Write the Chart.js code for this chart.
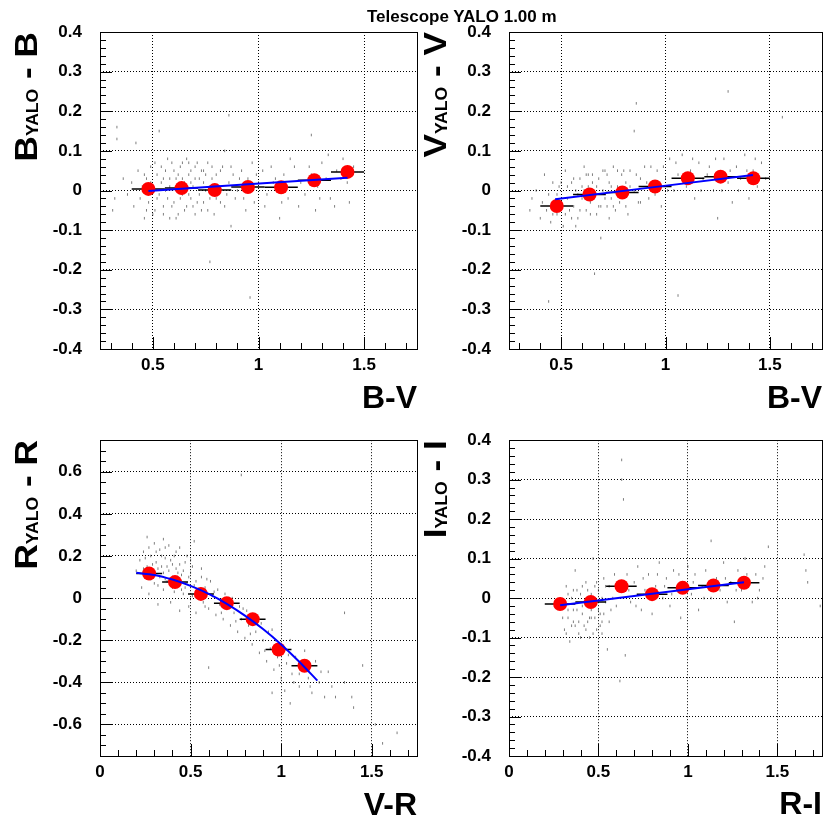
<!DOCTYPE html>
<html lang="en">
<head>
<meta charset="UTF-8">
<title>Telescope YALO 1.00 m</title>
<script src="https://cdn.jsdelivr.net/npm/chart.js"></script>
<style>
    * {
        margin: 0;
        padding: 0;
        box-sizing: border-box;
    }

    body {
        background: #fff;
        width: 829px;
        height: 824px;
        position: relative;
        overflow: hidden;
        font-family: "Liberation Sans", Arial, sans-serif;
    }

    .page-title {
        position: absolute;
        left: 367px;
        top: 8px;
        font-size: 17px;
        line-height: 17px;
        font-weight: bold;
        white-space: nowrap;
    }

    .panel { position: absolute; }
    #panel-b { left: 0; top: 0; width: 425px; height: 412px; }
    #panel-v { left: 414px; top: 0; width: 415px; height: 412px; }
    #panel-r { left: 0; top: 412px; width: 425px; height: 412px; }
    #panel-i { left: 414px; top: 412px; width: 415px; height: 412px; }
</style>
</head>
<body>
<div class="panel" id="panel-b"><canvas id="chart-b"></canvas></div>
<div class="panel" id="panel-v"><canvas id="chart-v"></canvas></div>
<div class="panel" id="panel-r"><canvas id="chart-r"></canvas></div>
<div class="panel" id="panel-i"><canvas id="chart-i"></canvas></div>
<div class="page-title">Telescope YALO 1.00 m</div>

<script>
// ---- data ----

// B-V bins (shared by the two top panels)
const bvCentres = [0.479, 0.636, 0.793, 0.950, 1.107, 1.264, 1.421];
const bvBinLo = [0.400, 0.557, 0.714, 0.871, 1.029, 1.186, 1.343];
const bvBinHi = [0.557, 0.714, 0.871, 1.029, 1.186, 1.343, 1.500];
const bMeans = [0.004, 0.006, 0.001, 0.009, 0.008, 0.026, 0.047];
const vMeans = [-0.039, -0.010, -0.005, 0.010, 0.031, 0.035, 0.031];

// V-R bins
const vrCentres = [0.271, 0.414, 0.557, 0.700, 0.843, 0.986, 1.129];
const vrBinLo = [0.200, 0.343, 0.486, 0.629, 0.771, 0.914, 1.057];
const vrBinHi = [0.343, 0.486, 0.629, 0.771, 0.914, 1.057, 1.200];
const rMeans = [0.117, 0.076, 0.020, -0.024, -0.100, -0.244, -0.321];

// R-I bins
const riCentres = [0.286, 0.457, 0.629, 0.800, 0.971, 1.143, 1.314];
const riBinLo = [0.200, 0.371, 0.543, 0.714, 0.886, 1.057, 1.229];
const riBinHi = [0.371, 0.543, 0.714, 0.886, 1.057, 1.229, 1.400];
const iMeans = [-0.015, -0.010, 0.030, 0.010, 0.026, 0.032, 0.039];

// fitted curves
const bFitX = [0.479, 1.421];
const bFitY = [-0.001, 0.032];
const vFitX = [0.471, 1.419];
const vFitY = [-0.022, 0.039];
const rFitX = [0.2, 0.3, 0.4, 0.5, 0.6, 0.7, 0.8, 0.9, 1.0, 1.1, 1.2];
const rFitY = [0.120, 0.110, 0.088, 0.058, 0.020, -0.027, -0.083, -0.147, -0.220, -0.302, -0.392];
const iFitX = [0.286, 1.314];
const iFitY = [-0.018, 0.040];

// individual star residuals (grey dots)
const bScatter = [
    [0.31,-0.05],[0.32,-0.02],[0.33,0.16],[0.33,0.13],[0.36,0.03],[0.38,-0.01],[0.40,0.02],[0.41,-0.04],
    [0.42,0.12],[0.43,0.05],[0.44,-0.02],[0.45,0.01],[0.46,-0.07],[0.47,0.03],[0.48,-0.03],[0.49,0.06],
    [0.50,0.00],[0.51,-0.05],[0.52,0.04],[0.53,0.15],[0.53,-0.01],[0.54,0.02],[0.55,-0.04],[0.56,0.05],
    [0.57,-0.02],[0.58,0.01],[0.59,0.07],[0.60,-0.03],[0.61,0.03],[0.62,-0.06],[0.63,0.06],[0.64,-0.01],
    [0.65,0.02],[0.66,0.08],[0.66,-0.04],[0.67,0.04],[0.68,-0.02],[0.69,0.01],[0.70,0.06],[0.71,-0.03],
    [0.72,0.03],[0.73,-0.05],[0.74,0.05],[0.75,0.00],[0.76,0.07],[0.77,-0.18],[0.77,-0.02],[0.78,0.03],
    [0.79,-0.06],[0.80,0.04],[0.81,0.01],[0.82,-0.03],[0.83,0.06],[0.84,0.10],[0.85,-0.01],[0.86,0.19],
    [0.86,0.02],[0.87,-0.09],[0.88,0.04],[0.90,0.00],[0.92,0.05],[0.93,-0.02],[0.95,0.03],[0.96,-0.27],
    [0.97,0.07],[0.98,-0.03],[1.00,0.02],[1.02,0.05],[1.04,-0.01],[1.06,0.06],[1.08,0.03],[1.10,-0.07],
    [1.10,0.01],[1.12,0.04],[1.14,-0.02],[1.17,0.06],[1.20,0.02],[1.22,-0.01],[1.25,0.14],[1.25,0.04],
    [1.27,-0.05],[1.28,0.01],[1.30,0.07],[1.32,0.03],[1.34,-0.02],[1.37,0.05],[1.40,0.08],[1.42,0.02],
    [1.45,0.06],[0.58,-0.07],[0.64,0.07],[0.70,-0.06],[0.62,0.00],[0.74,0.02],[0.55,0.03],[0.68,0.05],
    [0.46,0.04],[0.47,-0.05],[0.49,0.02],[0.50,-0.06],[0.51,0.07],[0.52,-0.02],[0.54,0.06],[0.55,-0.06],
    [0.56,0.00],[0.57,0.08],[0.58,0.03],[0.59,-0.04],[0.60,0.05],[0.61,-0.07],[0.62,0.04],[0.63,-0.02],
    [0.64,0.03],[0.65,-0.05],[0.66,0.01],[0.67,0.07],[0.67,-0.01],[0.68,0.02],[0.69,-0.04],[0.70,0.03],
    [0.71,0.07],[0.72,-0.01],[0.73,0.05],[0.74,-0.03],[0.75,0.04],[0.76,-0.05],[0.78,0.06],[0.79,0.01],
    [0.80,-0.02],[0.82,0.05],[0.84,-0.04],[0.87,0.06],[0.89,-0.02],[0.91,0.03],[0.94,-0.05],[0.99,0.04],
    [1.03,-0.04],[1.07,0.02],[1.11,-0.03],[1.15,0.08],[1.19,-0.04],[1.24,0.06],[1.29,-0.02],[1.33,0.09],
    [1.36,-0.04],[1.39,0.03],[1.43,-0.03]
];
const vScatter = [
    [0.35,-0.05],[0.36,-0.02],[0.38,0.00],[0.40,-0.07],[0.41,-0.03],[0.42,0.04],[0.43,-0.05],[0.44,-0.28],
    [0.44,-0.01],[0.45,-0.08],[0.46,0.02],[0.47,-0.04],[0.48,-0.06],[0.49,0.01],[0.50,-0.03],[0.51,-0.09],
    [0.52,0.05],[0.53,-0.02],[0.54,-0.05],[0.55,0.02],[0.56,-0.04],[0.57,0.00],[0.58,-0.07],[0.59,0.03],
    [0.60,-0.02],[0.61,0.06],[0.62,-0.05],[0.63,0.01],[0.64,-0.03],[0.65,0.04],[0.66,-0.21],[0.66,-0.01],
    [0.67,-0.06],[0.68,0.03],[0.69,-0.12],[0.70,0.00],[0.71,0.05],[0.72,-0.04],[0.73,0.02],[0.74,-0.02],
    [0.75,0.06],[0.76,-0.05],[0.77,0.01],[0.78,-0.03],[0.79,0.04],[0.80,-0.01],[0.81,0.02],[0.82,-0.06],
    [0.83,0.05],[0.85,0.15],[0.85,0.00],[0.86,0.22],[0.87,-0.03],[0.88,0.03],[0.90,0.06],[0.92,-0.02],
    [0.94,0.02],[0.96,0.05],[0.98,-0.04],[1.00,0.03],[1.02,0.08],[1.04,0.00],[1.06,-0.265],[1.06,0.04],
    [1.08,0.09],[1.10,0.01],[1.12,0.05],[1.14,-0.02],[1.16,0.07],[1.18,0.03],[1.21,0.06],[1.23,0.00],
    [1.25,-0.07],[1.26,0.04],[1.28,0.08],[1.30,0.25],[1.30,0.02],[1.32,-0.03],[1.34,0.06],[1.36,0.03],
    [1.38,0.09],[1.40,-0.02],[1.42,0.05],[1.44,0.01],[1.46,0.07],[1.48,0.03],[1.56,0.185],[0.57,-0.09],
    [0.63,0.04],[0.69,-0.04],[0.60,0.01],[0.73,-0.07],
    [0.46,-0.06],[0.48,-0.01],[0.50,0.02],[0.52,-0.06],[0.53,0.01],[0.55,-0.07],[0.56,0.03],[0.58,-0.01],
    [0.59,-0.05],[0.61,0.00],[0.62,0.04],[0.64,-0.06],[0.65,0.02],[0.67,0.01],[0.68,-0.04],[0.70,0.05],
    [0.71,-0.02],[0.72,0.04],[0.74,0.01],[0.75,-0.04],[0.77,0.05],[0.78,0.00],[0.80,0.05],[0.81,-0.04],
    [0.83,0.01],[0.86,0.04],[0.88,-0.03],[0.91,0.02],[0.93,0.06],[0.95,-0.01],[0.99,0.06],[1.01,0.00],
    [1.05,0.07],[1.09,0.02],[1.13,0.08],[1.17,0.00],[1.20,0.04],[1.24,0.08],[1.27,0.00],[1.31,0.05],
    [1.35,0.00],[1.39,0.05],[1.43,0.08],[1.47,0.00]
];
const rScatter = [
    [0.20,0.13],[0.22,0.18],[0.23,0.05],[0.24,0.22],[0.25,0.10],[0.26,0.29],[0.26,0.15],[0.27,0.02],
    [0.28,0.20],[0.29,0.12],[0.30,0.26],[0.30,0.07],[0.31,0.17],[0.32,-0.03],[0.33,0.23],[0.33,0.10],
    [0.34,0.15],[0.35,0.28],[0.35,0.04],[0.36,0.19],[0.37,0.08],[0.38,0.13],[0.38,0.25],[0.39,-0.02],
    [0.40,0.10],[0.41,0.20],[0.41,0.03],[0.42,0.14],[0.43,0.06],[0.44,0.24],[0.44,-0.06],[0.45,0.11],
    [0.46,0.02],[0.47,0.17],[0.48,0.07],[0.49,-0.04],[0.50,0.12],[0.51,0.01],[0.52,0.27],[0.52,0.06],
    [0.53,-0.07],[0.54,0.03],[0.56,0.10],[0.57,-0.02],[0.58,0.05],[0.60,-0.33],[0.60,-0.05],[0.61,0.08],
    [0.62,0.01],[0.64,-0.08],[0.65,0.04],[0.66,-0.03],[0.68,-0.10],[0.69,0.02],[0.70,-0.05],[0.72,-0.13],
    [0.73,0.00],[0.74,-0.07],[0.76,-0.16],[0.77,-0.04],[0.78,0.585],[0.78,-0.10],[0.80,-0.19],[0.81,-0.06],
    [0.82,-0.13],[0.84,-0.22],[0.85,-0.09],[0.86,-0.16],[0.88,-0.26],[0.89,-0.12],[0.90,-0.20],[0.92,-0.30],
    [0.93,-0.16],[0.94,-0.24],[0.96,-0.34],[0.97,-0.20],[0.98,-0.28],[1.00,-0.38],[1.01,-0.24],[1.02,-0.44],
    [1.03,-0.31],[1.05,-0.20],[1.06,-0.36],[1.08,-0.28],[1.10,-0.42],[1.11,-0.33],[1.13,-0.25],[1.15,-0.38],
    [1.17,-0.45],[1.19,-0.30],[1.21,-0.40],[1.24,-0.47],[1.26,-0.35],[1.30,-0.47],[1.35,-0.07],[1.35,-0.40],
    [1.39,-0.47],[1.40,-0.52],[1.45,-0.32],[1.52,-0.60],[1.56,-0.69],[1.64,-0.64],[0.32,0.14],[0.36,0.09],
    [0.40,0.16],[0.43,0.12],[0.47,0.05],[0.50,0.18],
    [0.24,0.14],[0.25,0.19],[0.27,0.24],[0.28,0.09],[0.29,0.16],[0.31,0.22],[0.32,0.06],[0.34,0.20],
    [0.35,0.12],[0.36,0.24],[0.37,0.15],[0.39,0.18],[0.40,0.05],[0.42,0.22],[0.42,0.09],[0.44,0.16],
    [0.45,0.04],[0.46,0.13],[0.48,0.20],[0.49,0.10],[0.51,0.15],[0.53,0.08],[0.55,0.00],[0.56,0.14],
    [0.58,-0.04],[0.59,0.09],[0.63,0.03],[0.67,-0.07],[0.71,0.00],[0.75,-0.11],[0.79,-0.05],[0.83,-0.17],
    [0.87,-0.09],[0.91,-0.25],[0.95,-0.15],[0.99,-0.32],[1.04,-0.27],[1.07,-0.40],[1.12,-0.30],[1.16,-0.42],
    [1.22,-0.35],[1.28,-0.42],[0.95,-0.45],[1.05,-0.50],[1.10,-0.36]
];
const iScatter = [
    [0.30,-0.02],[0.31,-0.08],[0.32,0.03],[0.33,-0.05],[0.34,-0.11],[0.35,0.00],[0.36,-0.06],[0.37,0.07],
    [0.38,-0.03],[0.39,-0.09],[0.40,0.01],[0.41,-0.04],[0.42,-0.07],[0.43,0.04],[0.44,-0.01],[0.45,-0.10],
    [0.46,-0.05],[0.47,0.10],[0.48,-0.02],[0.49,-0.08],[0.50,0.02],[0.51,-0.04],[0.52,-0.06],[0.53,0.05],
    [0.54,-0.01],[0.55,-0.13],[0.56,0.03],[0.57,-0.03],[0.59,0.06],[0.60,-0.02],[0.62,-0.21],[0.63,0.35],
    [0.63,0.30],[0.64,0.25],[0.64,0.02],[0.65,-0.145],[0.66,0.06],[0.68,-0.01],[0.70,0.04],[0.72,0.08],
    [0.74,-0.03],[0.76,0.02],[0.78,0.06],[0.80,-0.04],[0.82,0.03],[0.84,0.09],[0.86,0.00],[0.88,0.05],
    [0.90,-0.02],[0.92,0.07],[0.94,0.02],[0.96,-0.05],[0.98,0.04],[1.00,0.08],[1.02,0.01],[1.04,0.06],
    [1.06,-0.03],[1.08,0.03],[1.10,0.07],[1.13,0.145],[1.13,0.00],[1.16,0.05],[1.18,0.02],[1.20,0.09],
    [1.22,-0.01],[1.24,0.04],[1.26,-0.06],[1.28,0.07],[1.30,0.02],[1.32,0.10],[1.34,0.04],[1.36,-0.01],
    [1.38,0.06],[1.40,0.02],[1.43,0.08],[1.45,0.13],[1.65,0.11],[1.66,0.07],[1.67,0.04],[1.74,-0.02],
    [0.33,-0.03],[0.37,-0.07],[0.41,-0.02],[0.44,-0.06],[0.48,0.03],[0.52,-0.09],[0.36,0.02],[0.46,-0.03],
    [0.30,-0.05],[0.32,-0.09],[0.33,0.01],[0.35,-0.07],[0.36,-0.03],[0.38,0.02],[0.39,-0.06],[0.40,-0.10],
    [0.41,0.03],[0.42,-0.01],[0.43,-0.08],[0.44,0.02],[0.45,-0.05],[0.46,0.01],[0.47,-0.09],[0.48,-0.05],
    [0.49,0.04],[0.50,-0.03],[0.51,-0.07],[0.52,0.00],[0.53,-0.04],[0.54,0.03],[0.56,-0.06],[0.58,0.00],
    [0.61,0.04],[0.67,0.02],[0.71,-0.02],[0.75,0.05],[0.79,0.00],[0.83,0.06],[0.87,0.03],[0.91,0.01],
    [0.95,0.06],[0.99,0.00],[1.03,0.04],[1.09,0.00],[1.15,0.02],[1.21,0.05],[1.27,0.02],[1.33,0.06],
    [1.39,0.00],[1.42,0.05]
];

// axis ticks
const bvTicks = [0.5, 1, 1.5];
const colourTicks = [0, 0.5, 1, 1.5];
const narrowResidTicks = [-0.4, -0.3, -0.2, -0.1, 0, 0.1, 0.2, 0.3, 0.4];
const wideResidTicks = [-0.6, -0.4, -0.2, 0, 0.2, 0.4, 0.6];

const FONT = "'Liberation Sans', Arial, Helvetica, sans-serif";

// ROOT-like frame: inner tick marks, box, axis titles with subscript
const rootAxes = {
    id: 'rootAxes',
    afterDraw(chart, args, opts) {
        const { ctx, chartArea: a } = chart;
        const xs = chart.scales.x;
        const ys = chart.scales.y;

        ctx.save();
        ctx.strokeStyle = '#000';
        ctx.lineWidth = 1;
        ctx.beginPath();

        const isMajor = (v, list) => list.some(t => Math.abs(t - v) < 1e-6);

        for (let k = Math.ceil(xs.min / opts.xMinor - 1e-6); k * opts.xMinor <= xs.max + 1e-6; k++) {
            const v = k * opts.xMinor;
            const px = Math.round(xs.getPixelForValue(v)) + 0.5;
            const len = isMajor(v, opts.xTicks) ? 12 : 6;
            ctx.moveTo(px, a.bottom);
            ctx.lineTo(px, a.bottom - len);
        }
        for (let k = Math.ceil(ys.min / opts.yMinor - 1e-6); k * opts.yMinor <= ys.max + 1e-6; k++) {
            const v = k * opts.yMinor;
            const py = Math.round(ys.getPixelForValue(v)) + 0.5;
            const len = isMajor(v, opts.yTicks) ? 12 : 6;
            ctx.moveTo(a.left, py);
            ctx.lineTo(a.left + len, py);
        }
        ctx.stroke();

        ctx.strokeRect(Math.round(a.left) + 0.5, Math.round(a.top) + 0.5,
                       Math.round(a.right - a.left), Math.round(a.bottom - a.top));

        // x title, right aligned under the frame
        ctx.fillStyle = '#000';
        ctx.font = 'bold 32px ' + FONT;
        ctx.textAlign = 'right';
        ctx.textBaseline = 'alphabetic';
        ctx.fillText(opts.xTitle, a.right, opts.xTitleY);

        drawYTitle(ctx, opts.yTitle, opts.yTitleX, a.top);
        ctx.restore();
    }
};

function drawYTitle(ctx, parts, baseX, topY) {
    const big = 'bold 32px ' + FONT;
    const small = 'bold 16px ' + FONT;

    ctx.save();
    ctx.translate(baseX, topY);
    ctx.rotate(-Math.PI / 2);
    ctx.scale(1.1, 1);
    ctx.textAlign = 'left';
    ctx.textBaseline = 'alphabetic';

    ctx.font = big;
    const w1 = ctx.measureText(parts[0]).width;
    const w3 = ctx.measureText(parts[2]).width;
    ctx.font = small;
    const w2 = ctx.measureText(parts[1]).width;

    let x = -(w1 + w2 + w3);
    ctx.font = big;
    ctx.fillText(parts[0], x, 0);
    x += w1;
    ctx.font = small;
    ctx.fillText(parts[1], x, 1);
    x += w2;
    ctx.font = big;
    ctx.fillText(parts[2], x, 0);
    ctx.restore();
}

function formatTick(v) {
    return String(Math.round(v * 100) / 100);
}

function toPoints(xs, ys) {
    return xs.map((x, i) => ({ x: x, y: ys[i] }));
}

function buildDatasets(p) {
    const sets = [];
    sets.push({
        data: toPoints(p.fitX, p.fitY),
        showLine: true,
        borderColor: '#0000ff',
        borderWidth: 2,
        tension: 0.3,
        pointRadius: 0
    });
    sets.push({
        data: toPoints(p.centres, p.means),
        pointRadius: 7,
        pointStyle: 'circle',
        backgroundColor: '#ff0000',
        borderWidth: 0
    });
    p.binLo.forEach((lo, i) => {
        sets.push({
            data: [{ x: lo, y: p.means[i] }, { x: p.binHi[i], y: p.means[i] }],
            showLine: true,
            borderColor: '#000',
            borderWidth: 1.5,
            pointRadius: 0
        });
    });
    sets.push({
        data: p.scatter.map(d => ({ x: d[0], y: d[1] })),
        pointStyle: 'line',
        rotation: 90,
        pointRadius: 1.3,
        borderColor: 'rgba(40, 40, 40, 0.6)',
        borderWidth: 1
    });
    return sets;
}

function makePanel(p) {
    const tickFont = { family: FONT, size: 17, weight: 'bold' };
    return new Chart(document.getElementById(p.canvas), {
        type: 'scatter',
        data: { datasets: buildDatasets(p) },
        options: {
            responsive: true,
            maintainAspectRatio: false,
            animation: false,
            events: [],
            layout: { padding: { left: 0, top: p.top, right: p.right, bottom: 0 } },
            plugins: {
                legend: { display: false },
                tooltip: { enabled: false },
                rootAxes: {
                    xTitle: p.xTitle,
                    xTitleY: p.xTitleY,
                    yTitle: p.yTitle,
                    yTitleX: p.yTitleX,
                    xTicks: p.xTicks,
                    yTicks: p.yTicks,
                    xMinor: 0.1,
                    yMinor: p.yMinor
                }
            },
            scales: {
                x: {
                    type: 'linear',
                    min: p.xMin,
                    max: 1.75,
                    afterBuildTicks: s => { s.ticks = p.xTicks.map(v => ({ value: v })); },
                    afterFit: s => { s.height = p.xAxisHeight; },
                    ticks: { font: tickFont, color: '#000', padding: 6, maxRotation: 0, callback: formatTick },
                    grid: { color: '#000', lineWidth: 1, drawTicks: false },
                    border: { display: false, dash: [1, 2] }
                },
                y: {
                    type: 'linear',
                    min: p.yMin,
                    max: p.yMax,
                    afterBuildTicks: s => { s.ticks = p.yTicks.map(v => ({ value: v })); },
                    afterFit: s => { s.width = p.yAxisWidth; },
                    ticks: { font: tickFont, color: '#000', padding: 18, callback: formatTick },
                    grid: { color: '#000', lineWidth: 1, drawTicks: false },
                    border: { display: false, dash: [1, 2] }
                }
            }
        },
        plugins: [rootAxes]
    });
}

document.addEventListener('DOMContentLoaded', () => {
    makePanel({
        canvas: 'chart-b', top: 32, right: 8, yAxisWidth: 100, xAxisHeight: 63,
        xMin: 0.25, yMin: -0.4, yMax: 0.4, yMinor: 0.02,
        xTicks: bvTicks, yTicks: narrowResidTicks,
        centres: bvCentres, binLo: bvBinLo, binHi: bvBinHi, means: bMeans,
        fitX: bFitX, fitY: bFitY, scatter: bScatter,
        xTitle: 'B-V', xTitleY: 408, yTitle: ['B', 'YALO', ' - B'], yTitleX: 37
    });
    makePanel({
        canvas: 'chart-v', top: 32, right: 3, yAxisWidth: 95, xAxisHeight: 63,
        xMin: 0.25, yMin: -0.4, yMax: 0.4, yMinor: 0.02,
        xTicks: bvTicks, yTicks: narrowResidTicks,
        centres: bvCentres, binLo: bvBinLo, binHi: bvBinHi, means: vMeans,
        fitX: vFitX, fitY: vFitY, scatter: vScatter,
        xTitle: 'B-V', xTitleY: 408, yTitle: ['V', 'YALO', ' - V'], yTitleX: 32
    });
    makePanel({
        canvas: 'chart-r', top: 27, right: 8, yAxisWidth: 100, xAxisHeight: 68,
        xMin: 0, yMin: -0.75, yMax: 0.75, yMinor: 0.05,
        xTicks: colourTicks, yTicks: wideResidTicks,
        centres: vrCentres, binLo: vrBinLo, binHi: vrBinHi, means: rMeans,
        fitX: rFitX, fitY: rFitY, scatter: rScatter,
        xTitle: 'V-R', xTitleY: 403, yTitle: ['R', 'YALO', ' - R'], yTitleX: 37
    });
    makePanel({
        canvas: 'chart-i', top: 27, right: 3, yAxisWidth: 95, xAxisHeight: 68,
        xMin: 0, yMin: -0.4, yMax: 0.4, yMinor: 0.02,
        xTicks: colourTicks, yTicks: narrowResidTicks,
        centres: riCentres, binLo: riBinLo, binHi: riBinHi, means: iMeans,
        fitX: iFitX, fitY: iFitY, scatter: iScatter,
        xTitle: 'R-I', xTitleY: 402, yTitle: ['I', 'YALO', ' - I'], yTitleX: 32
    });
});
</script>
</body>
</html>
